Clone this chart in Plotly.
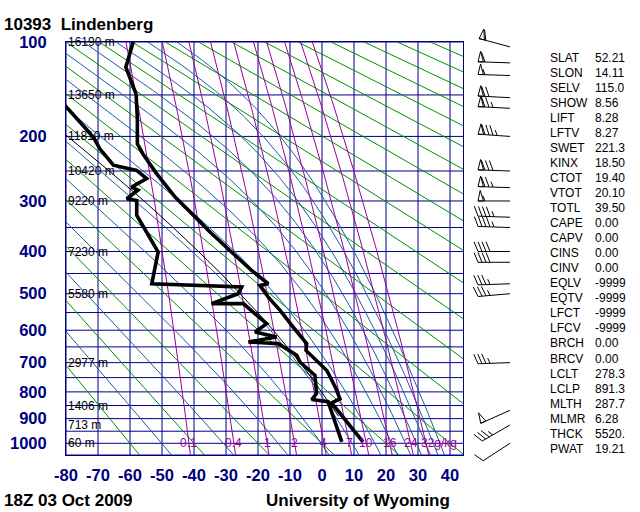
import numpy as np
import plotly.graph_objects as go

# ---------------- data ----------------
station_title = "10393  Lindenberg"
time_label = "18Z 03 Oct 2009"
source_label = "University of Wyoming"

temp_p = [100, 122, 149, 177, 210, 224, 254, 293, 326, 359, 405, 443, 475, 479, 509,
          544, 591, 640, 661, 687, 726, 789, 825, 840, 994]
temp_c = [-59.0, -61.3, -58.1, -57.7, -57.7, -56.0, -51.7, -45.9, -40.2, -35.0, -27.7,
          -22.0, -16.8, -19.4, -16.8, -13.1, -9.0, -4.8, -5.0, -2.2, 1.5, 4.4, 5.6, 3.0, 12.8]

dwpt_p = [140, 161, 179, 201, 217, 241, 249, 262, 276, 281, 296, 299, 326, 401, 475, 483,
          500, 526, 526, 581, 605, 620, 635, 640, 676, 698, 742, 806, 828, 836, 994]
dwpt_c = [-86.0, -80.3, -76.2, -71.5, -69.4, -65.2, -57.9, -54.8, -59.5, -57.5, -61.0,
          -57.9, -57.9, -51.2, -53.2, -25.1, -26.2, -34.5, -24.6, -17.3, -20.9, -14.2,
          -23.0, -13.7, -7.9, -6.9, -2.2, -1.7, -3.2, 1.9, 6.2]

parcel_p = [891, 850, 800, 750, 700, 650, 600, 550, 500, 450, 400, 350, 300, 250, 200, 170]
parcel_c = [5.2, 2.9, -0.1, -3.3, -6.9, -10.9, -15.2, -20.1, -25.5, -31.6, -38.6, -46.5,
            -55.6, -66.5, -79.5, -88.0]

wind_p = [104, 118, 130, 153, 165, 200, 250, 277, 300, 330, 350, 400, 424, 475, 500, 700, 868, 925, 1000]
wind_dir = [285, 272, 272, 273, 273, 274, 272, 272, 270, 272, 272, 270, 270, 268, 265, 268, 246, 240, 237]
wind_kt = [60, 60, 55, 70, 75, 85, 80, 75, 55, 45, 45, 40, 40, 35, 35, 35, 50, 35, 10]

isobars = list(range(100, 1051, 50))
isotherms = list(range(-80, 41, 10))
p_tick_vals = [100, 200, 300, 400, 500, 600, 700, 800, 900, 1000]
dry_t1000 = list(range(-60, 341, 20))           # dry adiabats: temp at 1000 hPa (C)
moist_thetae = [223.15 + 20 * i for i in range(12)]  # moist adiabats (theta-e, K)
mixr = [0.1, 0.4, 1, 2, 4, 7, 10, 16, 24, 32]
mixr_text = ["0.1", "0.4", "1", "2", "4", "7", "10", "16", "24", "32g/kg"]

height_p = [100, 150, 200, 250, 300, 400, 500, 700, 850, 925, 1000]
height_txt = ["16190 m", "13650 m", "11810 m", "10420 m", "9220 m", "7230 m", "5580 m",
              "2977 m", "1406 m", "713 m", "60 m"]

stat_names = ["SLAT", "SLON", "SELV", "SHOW", "LIFT", "LFTV", "SWET", "KINX", "CTOT", "VTOT",
              "TOTL", "CAPE", "CAPV", "CINS", "CINV", "EQLV", "EQTV", "LFCT", "LFCV", "BRCH",
              "BRCV", "LCLT", "LCLP", "MLTH", "MLMR", "THCK", "PWAT"]
stat_values = ["52.21", "14.11", "115.0", "8.56", "8.28", "8.27", "221.3", "18.50", "19.40",
               "20.10", "39.50", "0.00", "0.00", "0.00", "0.00", "-9999", "-9999", "-9999",
               "-9999", "0.00", "0.00", "278.3", "891.3", "287.7", "6.28", "5520.", "19.21"]

# ---------------- layout constants ----------------
W, H = 640, 512
PX_L, PX_R, PX_T, PX_B = 66, 463, 42, 455
KAPPA = 0.286
P_TOP, P_BOT = 100.0, 1050.0
T_LEFT = -80.0
T_RIGHT = T_LEFT + (PX_R - PX_L) / 3.2
FONT = "Liberation Sans, Arial, Helvetica, sans-serif"
NAVY = "#000080"
GREEN = "#009000"
BLUE = "#1d5ca4"
PURPLE = "#9c009c"


def q(p):
    return np.asarray(p, dtype=float) ** KAPPA


Q_TOP, Q_BOT = float(q(P_TOP)), float(q(P_BOT))
PX_PER_Q = (PX_B - PX_T) / (Q_BOT - Q_TOP)


def es_hpa(tc):
    return 6.112 * np.exp(17.67 * tc / (tc + 243.5))


fig = go.Figure()

# grid: isotherms and isobars
gx, gy = [], []
for t in isotherms:
    gx += [t, t, None]
    gy += [Q_BOT, Q_TOP, None]
for p in isobars:
    gx += [T_LEFT, T_RIGHT, None]
    gy += [float(q(p)), float(q(p)), None]
fig.add_trace(go.Scatter(x=gx, y=gy, mode="lines", line=dict(color=NAVY, width=1),
                         hoverinfo="skip"))

p_grid = np.linspace(P_TOP, P_BOT, 191)

# dry adiabats
dx, dy = [], []
for t0 in dry_t1000:
    tt = (t0 + 273.15) * (p_grid / 1000.0) ** KAPPA - 273.15
    dx += list(tt) + [None]
    dy += list(q(p_grid)) + [None]
fig.add_trace(go.Scatter(x=dx, y=dy, mode="lines", line=dict(color=GREEN, width=1),
                         hoverinfo="skip"))

# moist adiabats (saturated, constant theta-e)
tk = np.linspace(165.0, 345.0, 1801)
TK, PP = np.meshgrid(tk, p_grid, indexing="ij")
ES = es_hpa(TK - 273.15)
valid = ES < 0.2 * PP
WS = np.where(valid, 622.0 * ES / (PP - ES), np.nan)
THE = TK * (1000.0 / PP) ** (0.2854 * (1 - 0.28e-3 * WS)) * \
    np.exp((3.376 / TK - 0.00254) * WS * (1 + 0.81e-3 * WS))
mx, my = [], []
for the in moist_thetae:
    tline = []
    for j in range(len(p_grid)):
        col = THE[:, j]
        ok = np.isfinite(col)
        th_c, t_c = col[ok], tk[ok]
        if the < th_c[0] or the > th_c[-1]:
            tline.append(None)
        else:
            tline.append(float(np.interp(the, th_c, t_c)) - 273.15)
    mx += tline + [None]
    my += list(q(p_grid)) + [None]
fig.add_trace(go.Scatter(x=mx, y=my, mode="lines", line=dict(color=BLUE, width=1),
                         hoverinfo="skip", connectgaps=False))


# mixing ratio lines
def td_from_w(w, p):
    e = w * p / (622.0 + w)
    lg = np.log(e / 6.112)
    return 243.5 * lg / (17.67 - lg)


rx, ry = [], []
for w in mixr:
    rx += list(td_from_w(w, p_grid)) + [None]
    ry += list(q(p_grid)) + [None]
fig.add_trace(go.Scatter(x=rx, y=ry, mode="lines", line=dict(color=PURPLE, width=1),
                         hoverinfo="skip"))

# parcel path, temperature and dew point
fig.add_trace(go.Scatter(x=parcel_c, y=q(parcel_p), mode="lines",
                         line=dict(color="black", width=1)))
fig.add_trace(go.Scatter(x=dwpt_c, y=q(dwpt_p), mode="lines",
                         line=dict(color="black", width=3.6)))
fig.add_trace(go.Scatter(x=temp_c, y=q(temp_p), mode="lines",
                         line=dict(color="black", width=3.6)))

# wind barbs (x2 in pixels, y2 in p^kappa with same scale as main axis)
BASE_X = 510.0
L_STAFF, BL, PW, SP = 32.0, 10.5, 5.5, 4.0
bx, by = [], []


def add_pt(px, pyq):
    bx.append(px)
    by.append(pyq)


for p, d, s in zip(wind_p, wind_dir, wind_kt):
    r = np.deg2rad(d)
    ux, uy = np.sin(r), -np.cos(r)
    nx, ny = -uy, ux
    q0 = float(q(p))

    def pt(along, perp=0.0):
        px = BASE_X + along * ux + perp * nx
        py = along * uy + perp * ny
        return px, q0 + py / PX_PER_Q

    for a in (0.0, L_STAFF):
        add_pt(*pt(a))
    add_pt(None, None)
    s5 = int(round(s / 5.0)) * 5
    npen, rest = divmod(s5, 50)
    nfull, rest = divmod(rest, 10)
    nhalf = rest // 5
    pos = 0.0 if (npen or nfull) else SP
    tilt = np.deg2rad(22)
    for _ in range(npen):
        a0 = L_STAFF - pos
        a1 = a0 - PW
        apx = a0 - 0.4 * PW
        for (aa, pp) in ((a0, 0.0), (apx, BL), (a1, 0.0), (a0, 0.0)):
            add_pt(*pt(aa, pp))
        add_pt(None, None)
        pos += PW + 1.5
    for k in range(nfull + nhalf):
        blen = BL if k < nfull else BL * 0.55
        a0 = L_STAFF - pos
        add_pt(*pt(a0))
        add_pt(*pt(a0 + blen * np.sin(tilt), blen * np.cos(tilt)))
        add_pt(None, None)
        pos += SP
fig.add_trace(go.Scatter(x=bx, y=by, mode="lines", line=dict(color="black", width=1),
                         xaxis="x2", yaxis="y2", hoverinfo="skip"))

ann = []
for p, t in zip(height_p, height_txt):
    ann.append(dict(x=T_LEFT, y=float(q(p)), xref="x", yref="y", text=t, showarrow=False,
                    xanchor="left", yanchor="middle", xshift=0,
                    font=dict(family=FONT, size=12, color="black")))
for w, t in zip(mixr, mixr_text):
    xa = "center"
    shift = 0
    if t.endswith("g/kg"):
        xa, shift = "left", -7
    ann.append(dict(x=float(td_from_w(w, 1000.0)), y=float(q(1000)), xref="x", yref="y",
                    text=t, showarrow=False, xanchor=xa, yanchor="middle", xshift=shift,
                    font=dict(family=FONT, size=12, color=PURPLE)))


def paper(px, py):
    return px / W, 1 - py / H


for i, (n, v) in enumerate(zip(stat_names, stat_values)):
    yy = 57.5 + 15.05 * i
    xp, yp = paper(548, yy)
    ann.append(dict(x=xp, y=yp, xref="paper", yref="paper", text=n, showarrow=False,
                    xanchor="left", yanchor="middle",
                    font=dict(family=FONT, size=12, color="black")))
    xp, yp = paper(593, yy)
    ann.append(dict(x=xp, y=yp, xref="paper", yref="paper", text=v, showarrow=False,
                    xanchor="left", yanchor="middle",
                    font=dict(family=FONT, size=12, color="black")))

xp, yp = paper(2, 24)
ann.append(dict(x=xp, y=yp, xref="paper", yref="paper", text=station_title, showarrow=False,
                xanchor="left", yanchor="middle",
                font=dict(family=FONT, size=17, color="black", weight="bold")))
xp, yp = paper(2, 500)
ann.append(dict(x=xp, y=yp, xref="paper", yref="paper", text=time_label, showarrow=False,
                xanchor="left", yanchor="middle",
                font=dict(family=FONT, size=17, color="black", weight="bold")))
xp, yp = paper(452, 500)
ann.append(dict(x=xp, y=yp, xref="paper", yref="paper", text=source_label, showarrow=False,
                xanchor="right", yanchor="middle",
                font=dict(family=FONT, size=17, color="black", weight="bold")))

tickfont = dict(family=FONT, size=16.5, color=NAVY, weight="bold")
fig.update_layout(
    template="none",
    width=W, height=H, margin=dict(l=0, r=0, t=0, b=0, pad=0), autosize=False,
    paper_bgcolor="white", plot_bgcolor="rgba(0,0,0,0)", showlegend=False,
    xaxis=dict(domain=[PX_L / W, PX_R / W], range=[T_LEFT, T_RIGHT],
               tickmode="array", tickvals=isotherms, ticktext=[str(v) for v in isotherms],
               showgrid=False, zeroline=False, showline=True, mirror=True,
               linecolor=NAVY, linewidth=1, ticks="", tickfont=tickfont,
               ticklabelstandoff=5, anchor="y", automargin=False),
    yaxis=dict(domain=[1 - PX_B / H, 1 - PX_T / H], range=[Q_BOT, Q_TOP],
               tickmode="array", tickvals=list(q(p_tick_vals)),
               ticktext=[str(v) for v in p_tick_vals],
               showgrid=False, zeroline=False, showline=True, mirror=True,
               linecolor=NAVY, linewidth=1, ticks="", tickfont=tickfont,
               ticklabelstandoff=15, anchor="x", automargin=False),
    xaxis2=dict(domain=[0, 1], range=[0, W], visible=False, anchor="y2", automargin=False),
    yaxis2=dict(domain=[0, 1],
                range=[Q_TOP + (H - PX_T) / PX_PER_Q, Q_TOP - PX_T / PX_PER_Q],
                visible=False, anchor="x2", automargin=False),
    annotations=ann,
)

fig.write_html("out.html")
